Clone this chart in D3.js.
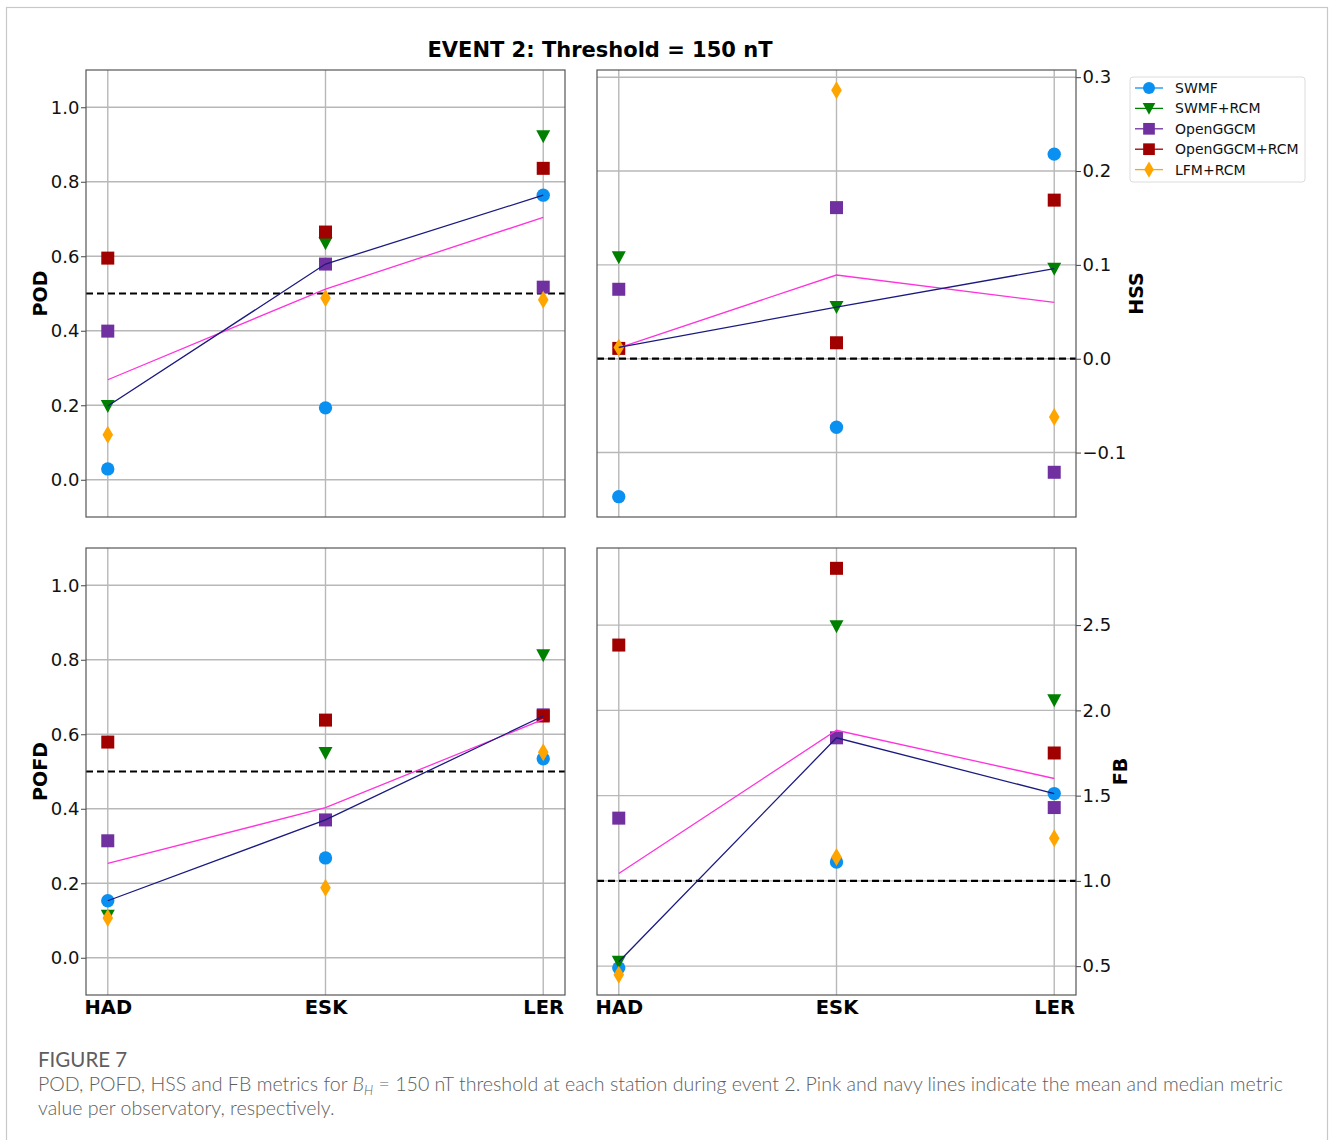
<!DOCTYPE html>
<html>
<head>
<meta charset="utf-8">
<script src="https://cdn.jsdelivr.net/npm/d3@7"></script>
<style>
  body { margin: 0; background: #fff; }
  svg { display: block; }
</style>
</head>
<body>
<svg id="chart" width="1330" height="1140"></svg>
<script>
// Estaciones y modelos
const stations = ["HAD", "ESK", "LER"];
const models = ["SWMF", "SWMF+RCM", "OpenGGCM", "OpenGGCM+RCM", "LFM+RCM"];
const modelColors = ["#0a90f0", "#008000", "#7030a0", "#a00000", "#ffa500"];
const modelShapes = ["circle", "triangle", "square", "square", "diamond"];

// Valores por modelo (filas) y estación (columnas)
const podValues = [
  [0.029, 0.193, 0.764],
  [0.198, 0.635, 0.922],
  [0.399, 0.579, 0.517],
  [0.595, 0.665, 0.836],
  [0.121, 0.488, 0.483]
];
const hssValues = [
  [-0.147, -0.073, 0.218],
  [0.108, 0.055, 0.096],
  [0.074, 0.161, -0.121],
  [0.011, 0.017, 0.169],
  [0.012, 0.286, -0.062]
];
const pofdValues = [
  [0.153, 0.268, 0.534],
  [0.113, 0.550, 0.812],
  [0.314, 0.370, 0.652],
  [0.579, 0.638, 0.649],
  [0.107, 0.188, 0.552]
];
const fbValues = [
  [0.490, 1.111, 1.512],
  [0.526, 2.494, 2.060],
  [1.368, 1.839, 1.430],
  [2.383, 2.833, 1.750],
  [0.450, 1.140, 1.250]
];

// Ticks y umbrales
const podTicks = [0.0, 0.2, 0.4, 0.6, 0.8, 1.0];
const hssTicks = [-0.1, 0.0, 0.1, 0.2, 0.3];
const fbTicks = [0.5, 1.0, 1.5, 2.0, 2.5];

const svg = d3.select("#chart");
const font = "DejaVu Sans, sans-serif";
const fmt = d3.format(".1f");

// Marco exterior
svg.append("rect")
  .attr("x", 6.5).attr("y", 7.5)
  .attr("width", 1321).attr("height", 1150)
  .attr("fill", "none").attr("stroke", "#c8c8c8").attr("stroke-width", 1.2);

// Título
svg.append("text")
  .attr("x", 600).attr("y", 57)
  .attr("text-anchor", "middle")
  .attr("font-family", font).attr("font-weight", "bold").attr("font-size", 21)
  .text("EVENT 2: Threshold = 150 nT");

function markerPath(shape) {
  if (shape === "circle") return d3.symbol(d3.symbolCircle, 140)();
  if (shape === "square") return "M-6.5,-6.5H6.5V6.5H-6.5Z";
  if (shape === "triangle") return "M-7,-6H7L0,7Z";
  return "M0,-9L5.3,0L0,9L-5.3,0Z";
}

function autoDomain(values) {
  const ext = d3.extent(values.flat());
  const pad = (ext[1] - ext[0]) * 0.05;
  return [ext[0] - pad, ext[1] + pad];
}

const panels = [
  { values: podValues, label: "POD", left: 86, top: 70, right: false, domain: [-0.1, 1.1], ticks: podTicks, ref: 0.5, xlabels: false, labelX: 40 },
  { values: hssValues, label: "HSS", left: 597, top: 70, right: true, domain: autoDomain(hssValues), ticks: hssTicks, ref: 0.0, xlabels: false, labelX: 1136 },
  { values: pofdValues, label: "POFD", left: 86, top: 548, right: false, domain: [-0.1, 1.1], ticks: podTicks, ref: 0.5, xlabels: true, labelX: 40 },
  { values: fbValues, label: "FB", left: 597, top: 548, right: true, domain: autoDomain(fbValues), ticks: fbTicks, ref: 1.0, xlabels: true, labelX: 1120 }
];

const pw = 479, ph = 447;

panels.forEach(p => {
  const g = svg.append("g").attr("transform", `translate(${p.left},${p.top})`);
  const x = d3.scaleLinear().domain([-0.1, 2.1]).range([0, pw]);
  const y = d3.scaleLinear().domain(p.domain).range([ph, 0]);

  // Rejilla
  g.append("g").selectAll("line").data(p.ticks).join("line")
    .attr("x1", 0).attr("x2", pw)
    .attr("y1", d => y(d)).attr("y2", d => y(d))
    .attr("stroke", "#b8b8b8").attr("stroke-width", 1.4);
  g.append("g").selectAll("line").data(stations).join("line")
    .attr("x1", (d, i) => x(i)).attr("x2", (d, i) => x(i))
    .attr("y1", 0).attr("y2", ph)
    .attr("stroke", "#b8b8b8").attr("stroke-width", 1.4);

  // Línea de umbral
  g.append("line")
    .attr("x1", 0).attr("x2", pw)
    .attr("y1", y(p.ref)).attr("y2", y(p.ref))
    .attr("stroke", "#000").attr("stroke-width", 2.2)
    .attr("stroke-dasharray", "7,4");

  // Ejes
  const yAxis = (p.right ? d3.axisRight(y) : d3.axisLeft(y))
    .tickValues(p.ticks).tickFormat(fmt).tickSize(5).tickPadding(1.5);
  const ya = g.append("g")
    .attr("transform", p.right ? `translate(${pw},0)` : null)
    .call(yAxis);
  ya.select(".domain").remove();
  ya.selectAll("line").attr("stroke", "#444");
  ya.selectAll("text").attr("font-family", font).attr("font-size", 18).attr("fill", "#111");

  const xAxis = d3.axisBottom(x).tickValues([0, 1, 2])
    .tickFormat(i => p.xlabels ? stations[i] : "").tickSize(0).tickPadding(5);
  const xa = g.append("g").attr("transform", `translate(0,${ph})`).call(xAxis);
  xa.select(".domain").remove();
  xa.selectAll("text").attr("font-family", font).attr("font-size", 19.5)
    .attr("font-weight", "bold").attr("fill", "#000");

  // Marcadores
  p.values.forEach((row, m) => {
    g.append("g").selectAll("path").data(row).join("path")
      .attr("transform", (d, i) => `translate(${x(i)},${y(d)})`)
      .attr("d", markerPath(modelShapes[m]))
      .attr("fill", modelColors[m]);
  });

  // Media y mediana por estación
  const means = stations.map((s, i) => d3.mean(p.values, r => r[i]));
  const medians = stations.map((s, i) => d3.median(p.values, r => r[i]));
  const line = d3.line().x((d, i) => x(i)).y(d => y(d));
  g.append("path").datum(means).attr("d", line)
    .attr("fill", "none").attr("stroke", "#ff33dd").attr("stroke-width", 1.3);
  g.append("path").datum(medians).attr("d", line)
    .attr("fill", "none").attr("stroke", "#1a1a80").attr("stroke-width", 1.3);

  // Borde
  g.append("rect").attr("width", pw).attr("height", ph)
    .attr("fill", "none").attr("stroke", "#555").attr("stroke-width", 1.2);

  // Etiqueta del eje
  const cy = p.top + ph / 2;
  svg.append("text")
    .attr("transform", `translate(${p.labelX + 7},${cy}) rotate(-90)`)
    .attr("text-anchor", "middle")
    .attr("font-family", font).attr("font-weight", "bold").attr("font-size", 19)
    .text(p.label);
});

// Leyenda
const legend = svg.append("g").attr("transform", "translate(1130,77)");
legend.append("rect")
  .attr("width", 175).attr("height", 105).attr("rx", 3)
  .attr("fill", "#fff").attr("stroke", "#dcdcdc");
models.forEach((m, i) => {
  const ly = 11 + i * 20.4;
  legend.append("line")
    .attr("x1", 5).attr("x2", 33).attr("y1", ly).attr("y2", ly)
    .attr("stroke", modelColors[i]).attr("stroke-width", 1.3);
  legend.append("path")
    .attr("transform", `translate(19,${ly}) scale(0.9)`)
    .attr("d", markerPath(modelShapes[i]))
    .attr("fill", modelColors[i]);
  legend.append("text")
    .attr("x", 45).attr("y", ly + 5)
    .attr("font-family", font).attr("font-size", 14).attr("fill", "#111")
    .text(m);
});

// Pie de figura
const cap = svg.append("g").attr("font-family", "Lato, 'Open Sans', sans-serif").attr("fill", "#5e5e5e");
cap.append("text").attr("x", 38).attr("y", 1067).attr("font-size", 20.5).text("FIGURE 7");
const l1 = cap.append("text").attr("x", 38).attr("y", 1091).attr("font-size", 19.6).attr("font-weight", 300);
l1.append("tspan").text("POD, POFD, HSS and FB metrics for ");
l1.append("tspan").attr("font-style", "italic").text("B");
l1.append("tspan").attr("font-style", "italic").attr("font-size", 13).attr("dy", 4).text("H");
l1.append("tspan").attr("dy", -4).text(" = 150 nT threshold at each station during event 2. Pink and navy lines indicate the mean and median metric");
cap.append("text").attr("x", 38).attr("y", 1115).attr("font-size", 19.6).attr("font-weight", 300)
  .text("value per observatory, respectively.");
</script>
</body>
</html>
